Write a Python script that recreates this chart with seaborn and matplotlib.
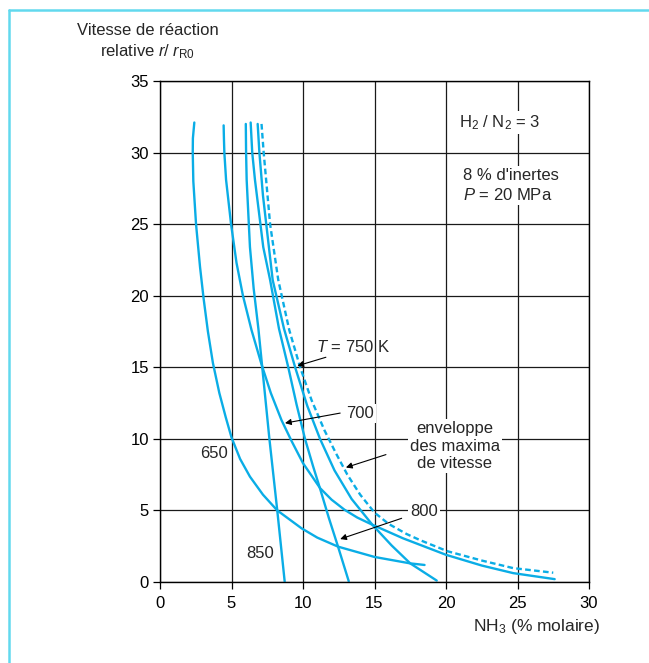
import numpy as np
import pandas as pd
import matplotlib.pyplot as plt
import seaborn as sns
from matplotlib.lines import Line2D

# curves: x = NH3 (% molaire), y = r / r_R0
t650_x = [2.40, 2.30, 2.29, 2.33, 2.52, 2.80, 3.05, 3.35, 3.70, 4.15, 4.60, 5.00, 5.60, 6.29, 7.20, 8.20, 9.90, 11.0, 12.45, 15.0, 17.5, 18.5]
t650_y = [32.1, 31.0, 30.0, 28.0, 25.0, 22.0, 19.8, 17.5, 15.3, 13.2, 11.5, 10.1, 8.6, 7.36, 6.1, 5.0, 3.75, 3.1, 2.47, 1.75, 1.30, 1.19]

t700_x = [4.45, 4.47, 4.50, 4.62, 4.97, 5.35, 5.80, 6.40, 7.10, 7.75, 8.50, 9.20, 10.0, 11.2, 12.0, 12.9, 13.8, 14.85, 17.0, 20.0, 22.5, 24.7, 27.6]
t700_y = [31.9, 31.0, 30.0, 28.1, 25.0, 22.3, 20.0, 17.6, 15.2, 13.2, 11.3, 9.85, 8.3, 6.55, 5.75, 5.05, 4.5, 4.0, 3.05, 1.9, 1.15, 0.62, 0.2]

t750_x = [6.83, 6.95, 7.20, 7.88, 8.67, 9.45, 10.3, 11.19, 12.2, 13.4, 14.85, 16.2, 17.5, 19.35]
t750_y = [32.0, 30.0, 27.0, 21.1, 17.7, 15.0, 12.3, 10.0, 7.8, 5.8, 4.0, 2.55, 1.3, 0.1]

t800_x = [6.34, 6.45, 6.64, 7.22, 7.70, 8.32, 8.97, 9.55, 10.14, 10.7, 11.2, 11.8, 12.45, 13.2]
t800_y = [32.1, 30.0, 28.1, 23.4, 21.1, 17.7, 15.0, 12.4, 10.0, 8.1, 6.5, 4.5, 2.47, 0.05]

t850_x = [6.00, 6.02, 6.06, 6.29, 6.55, 6.88, 7.15, 7.65, 8.20, 8.72]
t850_y = [32.0, 30.0, 28.1, 23.4, 20.5, 17.7, 15.0, 10.0, 5.0, 0.02]

# envelope of the rate maxima (dashed)
env_x = [7.10, 7.25, 7.70, 8.27, 9.04, 9.80, 10.6, 11.5, 12.3, 13.1, 14.0, 15.0, 16.0, 17.25, 18.2, 20.1, 22.5, 24.7, 27.5]
env_y = [32.0, 30.0, 25.0, 21.1, 17.6, 15.0, 12.7, 10.6, 9.0, 7.5, 6.1, 4.85, 4.05, 3.35, 2.92, 2.15, 1.5, 0.97, 0.65]

x_ticks = [0, 5, 10, 15, 20, 25, 30]
y_ticks = [0, 5, 10, 15, 20, 25, 30, 35]

cyan = '#0AADE6'

sns.set_style('ticks')
plt.rcParams['font.family'] = ['Liberation Sans', 'DejaVu Sans']
plt.rcParams['mathtext.fontset'] = 'custom'
plt.rcParams['mathtext.rm'] = 'Liberation Sans'
plt.rcParams['mathtext.it'] = 'Liberation Sans:italic'

curves = pd.concat([
    pd.DataFrame({'x': t650_x, 'y': t650_y, 'T': 650}),
    pd.DataFrame({'x': t700_x, 'y': t700_y, 'T': 700}),
    pd.DataFrame({'x': t750_x, 'y': t750_y, 'T': 750}),
    pd.DataFrame({'x': t800_x, 'y': t800_y, 'T': 800}),
    pd.DataFrame({'x': t850_x, 'y': t850_y, 'T': 850}),
], ignore_index=True)

fig = plt.figure(figsize=(6.49, 6.63), dpi=100)
ax = fig.add_axes([160 / 649, 81 / 663, 429 / 649, 501 / 663])

sns.lineplot(data=curves, x='x', y='y', units='T', estimator=None, sort=False,
             color=cyan, lw=1.7, ax=ax)
sns.lineplot(x=env_x, y=env_y, estimator=None, sort=False, color=cyan, lw=1.7,
             linestyle=(0, (2.4, 1.4)), ax=ax)

ax.set_xlim(0, 30)
ax.set_ylim(0, 35)
ax.set_xticks(x_ticks)
ax.set_yticks(y_ticks)
ax.set_xlabel('')
ax.set_ylabel('')
ax.grid(True, color='#1a1a1a', lw=0.9)
ax.set_axisbelow(True)
for s in ax.spines.values():
    s.set_color('black')
    s.set_linewidth(1.0)
ax.tick_params(direction='out', length=5, width=0.9, labelsize=12, colors='black')
ax.tick_params(axis='y', pad=3)
ax.tick_params(axis='x', pad=5)

white = dict(facecolor='white', edgecolor='none', pad=1.5)
arrow = dict(arrowstyle='-|>', color='black', lw=0.8, mutation_scale=9, shrinkA=0, shrinkB=0)

ax.text(20.9, 32.1, 'H$_2$ / N$_2$ = 3', fontsize=12, va='center', ha='left', bbox=white)
ax.text(21.2, 27.7, "8 % d'inertes\n$P$ = 20 MPa", fontsize=12, va='center', ha='left',
        linespacing=1.3, bbox=white)

ax.text(10.9, 16.4, '$T$ = 750 K', fontsize=12, va='center', ha='left')
ax.annotate('', xy=(9.6, 15.1), xytext=(11.6, 15.7), arrowprops=arrow)

ax.text(13.0, 11.8, '700', fontsize=12, va='center', ha='left', bbox=white)
ax.annotate('', xy=(8.74, 11.1), xytext=(12.6, 11.8), arrowprops=arrow)

ax.text(20.6, 9.5, 'enveloppe\ndes maxima\nde vitesse', fontsize=12, va='center', ha='center',
        linespacing=1.22, bbox=white)
ax.annotate('', xy=(13.0, 8.0), xytext=(15.8, 8.9), arrowprops=arrow)

ax.text(17.5, 4.9, '800', fontsize=12, va='center', ha='left', bbox=white)
ax.annotate('', xy=(12.6, 3.0), xytext=(16.9, 4.45), arrowprops=arrow)

ax.text(3.75, 9.0, '650', fontsize=12, va='center', ha='center')
ax.text(7.0, 2.0, '850', fontsize=12, va='center', ha='center')

fig.text(148 / 649, 1 - 42 / 663, 'Vitesse de réaction\nrelative $r$/ $r_{\\mathrm{R0}}$',
         fontsize=12, ha='center', va='center', multialignment='center', linespacing=1.25)
fig.text(600 / 649, 1 - 627 / 663, 'NH$_3$ (% molaire)', fontsize=12.5, ha='right', va='center')

# cyan page frame
frame = '#62D9EE'
fig.add_artist(Line2D([9 / 649, 1.0], [1 - 10 / 663, 1 - 10 / 663], color=frame, lw=1.8))
fig.add_artist(Line2D([9 / 649, 9 / 649], [0.0, 1 - 10 / 663], color=frame, lw=1.8))

fig.savefig('out.png', dpi=100, facecolor='white')
